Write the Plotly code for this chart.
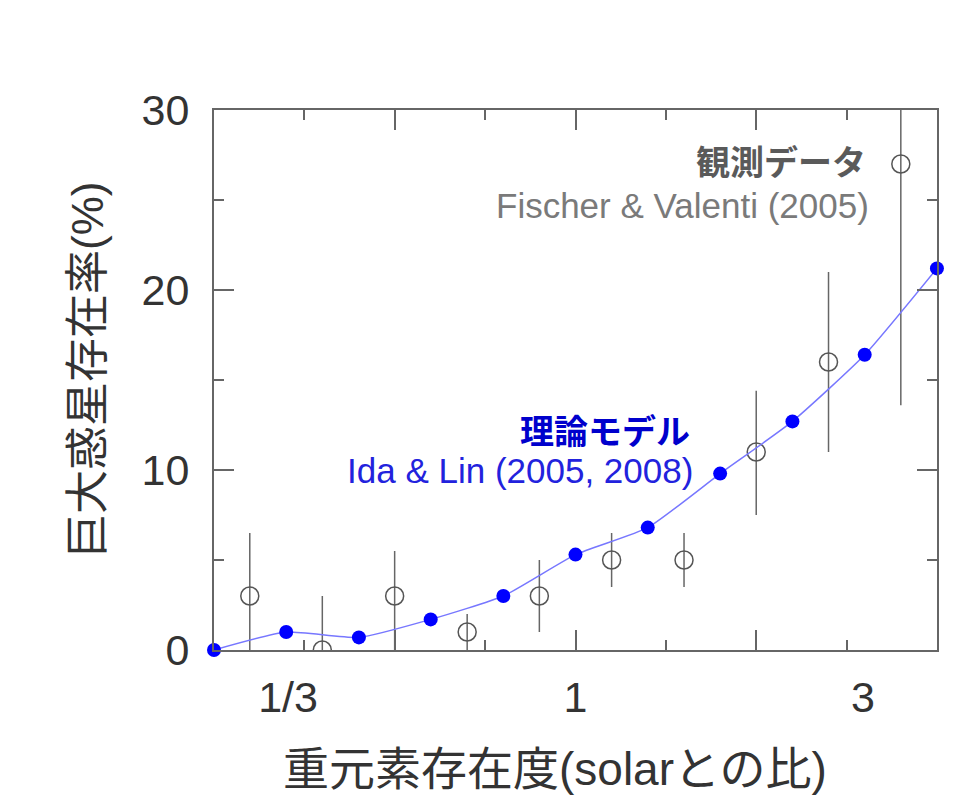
import plotly.graph_objects as go

# ---- data ----
model_x = [0.2512, 0.331, 0.437, 0.575, 0.759, 1.0, 1.318, 1.738, 2.291, 3.02, 3.98]
model_y = [0.0, 1.0, 0.7, 1.7, 3.0, 5.3, 6.8, 9.8, 12.7, 16.4, 21.2]

obs_x = [0.288, 0.380, 0.501, 0.661, 0.871, 1.148, 1.514, 1.995, 2.630, 3.467]
obs_y = [3.0, 0.0, 3.0, 1.0, 3.0, 5.0, 5.0, 11.0, 16.0, 27.0]
obs_err_plus = [3.5, 3.0, 2.5, 1.0, 2.0, 1.5, 1.5, 3.4, 5.0, 13.4]
obs_err_minus = [3.5, 3.0, 3.0, 1.0, 2.0, 1.5, 1.5, 3.5, 5.0, 13.4]

x_label_vals = [1/3, 1, 3]
x_label_text = ["1/3", "1", "3"]
x_long_ticks = [0.2512, 0.5012, 1.0, 1.995, 3.981]
x_short_ticks = [0.3548, 0.7079, 1.413, 2.818]

x_title = "重元素存在度(solarとの比)"
y_title = "巨大惑星存在率(%)"
obs_name = "観測データ"
obs_ref = "Fischer & Valenti (2005)"
model_name = "理論モデル"
model_ref = "Ida & Lin (2005, 2008)"

FONT = "Liberation Sans, Arial, Noto Sans CJK JP, sans-serif"
AX = "#666666"

fig = go.Figure()

fig.add_trace(go.Scatter(
    x=obs_x, y=obs_y, mode="markers", name=obs_name,
    marker=dict(symbol="circle-open", size=18, color="#555555", line=dict(width=1.5, color="#555555")),
    error_y=dict(type="data", array=obs_err_plus, arrayminus=obs_err_minus,
                 color="#666666", thickness=1.5, width=0),
    cliponaxis=True, showlegend=False,
))

fig.add_trace(go.Scatter(
    x=model_x, y=model_y, mode="lines+markers", name=model_name,
    xaxis="x2", yaxis="y",
    line=dict(color="#7777ff", width=1.5, shape="spline", smoothing=0.5),
    marker=dict(size=14, color="#0000ff"),
    cliponaxis=False, showlegend=False,
))

fig.update_layout(
    width=970, height=795,
    margin=dict(l=214, r=33, t=110, b=145),
    paper_bgcolor="white", plot_bgcolor="white",
    font=dict(family=FONT, color="#333333"),
    xaxis=dict(
        type="log", range=[-0.6, 0.6],
        tickmode="array", tickvals=x_long_ticks, showticklabels=False,
        ticks="inside", ticklen=20, tickwidth=2, tickcolor=AX,
        minor=dict(tickmode="array", tickvals=x_short_ticks, ticks="inside",
                   ticklen=10, tickwidth=2, tickcolor=AX, showgrid=False),
        showline=True, linecolor=AX, linewidth=2, mirror="ticks",
        showgrid=False, zeroline=False,
    ),
    xaxis2=dict(
        type="log", range=[-0.6, 0.6], overlaying="x", anchor="y", side="bottom",
        tickmode="array", tickvals=x_label_vals, ticktext=x_label_text,
        ticks="", showline=False, showgrid=False, zeroline=False,
        tickfont=dict(size=43, color="#333333", family=FONT),
        ticklabelstandoff=18,
    ),
    yaxis=dict(
        range=[0, 30], tickmode="array", tickvals=[0, 10, 20, 30],
        ticks="inside", ticklen=20, tickwidth=2, tickcolor=AX,
        minor=dict(tickmode="array", tickvals=[5, 15, 25], ticks="inside",
                   ticklen=10, tickwidth=2, tickcolor=AX, showgrid=False),
        showline=True, linecolor=AX, linewidth=2, mirror="ticks",
        showgrid=False, zeroline=False,
        tickfont=dict(size=43, color="#333333", family=FONT),
        ticklabelstandoff=14,
    ),
)

ann = [
    dict(text=x_title, x=(555 - 214) / 723, y=(650 - 769) / 540, xref="paper", yref="paper",
         xanchor="center", yanchor="middle", showarrow=False,
         font=dict(size=46, color="#333333", family=FONT)),
    dict(text=y_title, x=(87 - 214) / 723, y=(650 - 370) / 540, xref="paper", yref="paper",
         xanchor="center", yanchor="middle", textangle=-90, showarrow=False,
         font=dict(size=44, color="#333333", family=FONT)),
    dict(text="<b>" + obs_name + "</b>", x=(868 - 214) / 723, y=(650 - 163) / 540,
         xref="paper", yref="paper", xanchor="right", yanchor="middle", showarrow=False,
         font=dict(size=34, color="#5a5a5a", family=FONT)),
    dict(text=obs_ref, x=(871 - 214) / 723, y=(650 - 205) / 540,
         xref="paper", yref="paper", xanchor="right", yanchor="middle", showarrow=False,
         font=dict(size=35, color="#7a7a7a", family=FONT)),
    dict(text="<b>" + model_name + "</b>", x=(692 - 214) / 723, y=(650 - 432) / 540,
         xref="paper", yref="paper", xanchor="right", yanchor="middle", showarrow=False,
         font=dict(size=34, color="#0000cc", family=FONT)),
    dict(text=model_ref, x=(695 - 214) / 723, y=(650 - 470) / 540,
         xref="paper", yref="paper", xanchor="right", yanchor="middle", showarrow=False,
         font=dict(size=35, color="#2222dd", family=FONT)),
]
fig.update_layout(annotations=ann)

fig.write_html("out.html")
